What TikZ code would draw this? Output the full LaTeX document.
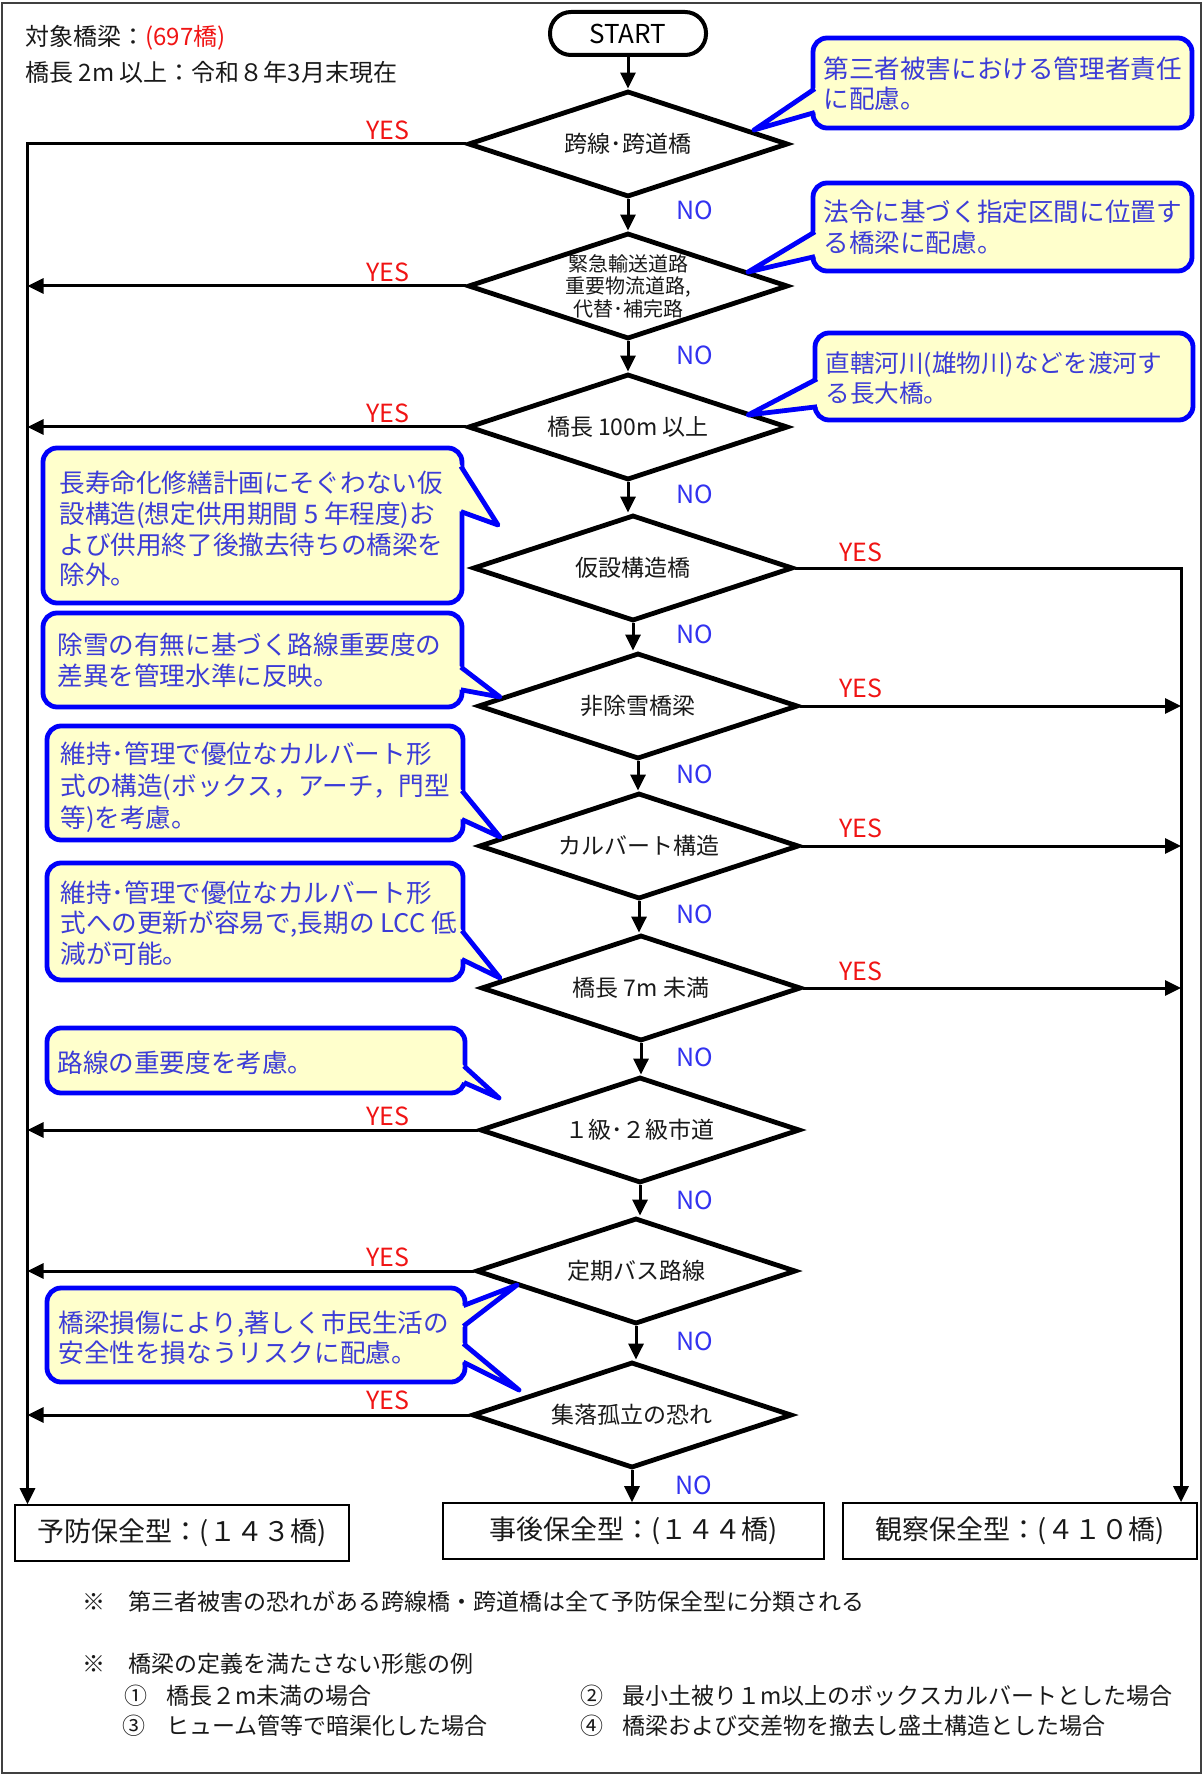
\documentclass[tikz,border=0pt]{standalone}
\usepackage{fontspec}
\setmainfont{Noto Sans CJK JP}
\usetikzlibrary{shapes.geometric,arrows.meta,calc}
\definecolor{yesred}{RGB}{240,20,20}
\definecolor{noblue}{RGB}{50,50,240}
\definecolor{cbord}{RGB}{0,0,250}
\definecolor{cfill}{RGB}{255,255,204}
\definecolor{ctext}{RGB}{60,60,215}
\definecolor{txt}{RGB}{25,25,25}
\newcommand{\mycbox}[4]{\draw[callout, rounded corners=7pt] (#1,#2) rectangle (#3,#4);}
\newcommand{\mycwedge}[6]{%
  \fill[cfill] (#5,#6) -- ($(#5,#6)!1.15!(#1,#2)$) -- ($(#5,#6)!1.15!(#3,#4)$) -- cycle;
  \draw[cbord, line width=2.4pt, line join=round] ($(#5,#6)!1.03!(#1,#2)$) -- (#5,#6) -- ($(#5,#6)!1.03!(#3,#4)$);}
\begin{document}
\begin{tikzpicture}[x=0.5pt,y=-0.5pt,
  dia/.style={diamond, draw=black, line width=2.4pt, aspect=3, inner sep=0pt,
    minimum width=160pt, minimum height=53pt, font=\fontsize{11.5}{13}\selectfont, text=txt},
  conn/.style={line width=1.5pt, draw=black},
  arr/.style={conn, -{Triangle[length=8pt,width=7.5pt]}},
  yes/.style={text=yesred, font=\fontsize{12.5}{14}\selectfont, inner sep=0pt},
  no/.style={text=noblue, font=\fontsize{12.5}{14}\selectfont, inner sep=0pt},
  callout/.style={draw=cbord, fill=cfill, line width=2.4pt},
  ctxt/.style={text=ctext, font=\fontsize{12.8}{15.3}\selectfont, inner sep=0pt, anchor=north west, align=left},
  endbox/.style={draw=black, line width=0.8pt, inner sep=0pt, font=\fontsize{13.5}{15}\selectfont, text=txt},
  note/.style={text=txt, font=\fontsize{11.5}{13}\selectfont, inner sep=0pt, anchor=west},
]
\useasboundingbox (0,0) rectangle (1203,1775);
\draw[line width=1pt, draw=black!75] (2,3) rectangle (1201,1773);

% header
\node[note, font=\fontsize{12}{14}\selectfont] (t1) at (25,38) {対象橋梁：\textcolor{yesred}{(697橋)}};
\node[note, font=\fontsize{12}{14}\selectfont] (t2) at (25,72) {橋長 2m 以上：令和８年3月末現在};

% start
\node[draw, line width=2pt, rounded corners=10.5pt, minimum width=78pt, minimum height=21.5pt,
  inner sep=0pt, font=\fontsize{13}{15}\selectfont] (start) at (628,33.5) {START};

% diamonds
\node[dia] (d1) at (628,144) {跨線･跨道橋};
\node[dia, align=center, font=\fontsize{10}{11.2}\selectfont] (d2) at (628,286) {緊急輸送道路\\重要物流道路,\\代替･補完路};
\node[dia] (d3) at (628,427) {橋長 100m 以上};
\node[dia] (d4) at (633,568) {仮設構造橋};
\node[dia] (d5) at (638,706) {非除雪橋梁};
\node[dia] (d6) at (639,846) {カルバート構造};
\node[dia] (d7) at (641,988) {橋長 7m 未満};
\node[dia] (d8) at (640,1130) {１級･２級市道};
\node[dia] (d9) at (636,1271) {定期バス路線};
\node[dia] (d10) at (632,1415) {集落孤立の恐れ};

% end boxes
\node[endbox, minimum width=167pt, minimum height=28pt] (b1) at (182,1533) {予防保全型：(１４３橋)};
\node[endbox, minimum width=190.5pt, minimum height=28pt] (b2) at (633.5,1531) {事後保全型：(１４４橋)};
\node[endbox, minimum width=177pt, minimum height=28pt] (b3) at (1020,1531) {観察保全型：(４１０橋)};

% vertical NO arrows
\draw[arr] (start.south) -- (start.south |- d1.north);
\draw[arr] (d1.south) -- (d1.south |- d2.north);
\draw[arr] (d2.south) -- (d2.south |- d3.north);
\draw[arr] (d3.south) -- (d3.south |- d4.north);
\draw[arr] (d4.south) -- (d4.south |- d5.north);
\draw[arr] (d5.south) -- (d5.south |- d6.north);
\draw[arr] (d6.south) -- (d6.south |- d7.north);
\draw[arr] (d7.south) -- (d7.south |- d8.north);
\draw[arr] (d8.south) -- (d8.south |- d9.north);
\draw[arr] (d9.south) -- (d9.south |- d10.north);
\draw[arr] (d10.south) -- (d10.south |- b2.north);

\node[no] (n1) at (695,210) {NO};
\node[no] (n2) at (695,355) {NO};
\node[no] (n3) at (695,494) {NO};
\node[no] (n4) at (695,634) {NO};
\node[no] (n5) at (695,774) {NO};
\node[no] (n6) at (695,914) {NO};
\node[no] (n7) at (695,1057) {NO};
\node[no] (n8) at (695,1200) {NO};
\node[no] (n9) at (695,1341) {NO};
\node[no] (n10) at (694,1485) {NO};

% left YES column
\coordinate (L) at (27.5,144);
\draw[arr] (d1.west) -- (L) -- (L |- b1.north);
\draw[arr] (d2.west) -- (d2.west -| L);
\draw[arr] (d3.west) -- (d3.west -| L);
\draw[arr] (d8.west) -- (d8.west -| L);
\draw[arr] (d9.west) -- (d9.west -| L);
\draw[arr] (d10.west) -- (d10.west -| L);
\node[yes] (y1) at (388,130) {YES};
\node[yes] (y2) at (388,272) {YES};
\node[yes] (y3) at (388,413) {YES};
\node[yes] (y8) at (388,1116) {YES};
\node[yes] (y9) at (388,1257) {YES};
\node[yes] (y10) at (388,1400) {YES};

% right YES column
\coordinate (R) at (1181,568);
\draw[arr] (d4.east) -- (R) -- (R |- b3.north);
\draw[arr] (d5.east) -- (d5.east -| R);
\draw[arr] (d6.east) -- (d6.east -| R);
\draw[arr] (d7.east) -- (d7.east -| R);
\node[yes] (y4) at (861,552) {YES};
\node[yes] (y5) at (861,688) {YES};
\node[yes] (y6) at (861,828) {YES};
\node[yes] (y7) at (861,971) {YES};

% callouts
\mycbox{813}{38}{1192}{128}
\mycwedge{813}{90}{813}{113}{754}{130}
\node[ctxt] (c1) at (823,56) {第三者被害における管理者責任\\に配慮。};

\mycbox{813}{183}{1192}{271}
\mycwedge{813}{233}{813}{257}{748}{272}
\node[ctxt] (c2) at (823,200) {法令に基づく指定区間に位置す\\る橋梁に配慮。};

\mycbox{815}{333}{1193}{420}
\mycwedge{815}{380}{815}{407}{748}{415}
\node[ctxt, font=\fontsize{12.3}{15.3}\selectfont] (c3) at (825,351) {直轄河川(雄物川)などを渡河す\\る長大橋。};

\mycbox{43}{448}{462}{603}
\mycwedge{462}{468}{462}{512}{498}{525}
\node[ctxt] (c4) at (59,471) {長寿命化修繕計画にそぐわない仮\\設構造(想定供用期間 5 年程度)お\\よび供用終了後撤去待ちの橋梁を\\除外。};

\mycbox{43}{613}{462}{707}
\mycwedge{462}{668}{462}{690}{500}{697}
\node[ctxt] (c5) at (57,633) {除雪の有無に基づく路線重要度の\\差異を管理水準に反映。};

\mycbox{47}{726}{463}{840}
\mycwedge{463}{792}{463}{820}{500}{837}
\node[ctxt, font=\fontsize{12.8}{16}\selectfont] (c6) at (60,741) {維持･管理で優位なカルバート形\\式の構造(ボックス，アーチ，門型\\等)を考慮。};

\mycbox{47}{863}{463}{980}
\mycwedge{463}{932}{463}{960}{500}{978}
\node[ctxt] (c7) at (60,880) {維持･管理で優位なカルバート形\\式への更新が容易で,長期の LCC 低\\減が可能。};

\mycbox{47}{1028}{465}{1093}
\mycwedge{465}{1067}{465}{1083}{499}{1098}
\node[ctxt] (c8) at (57,1051) {路線の重要度を考慮。};

\mycbox{47}{1288}{465}{1382}
\mycwedge{465}{1305}{465}{1325}{517}{1285}
\mycwedge{465}{1345}{465}{1363}{519}{1390}
\node[ctxt] (c9) at (58,1310) {橋梁損傷により,著しく市民生活の\\安全性を損なうリスクに配慮。};

% footer notes
\node[note] (f1m) at (82,1602) {※};
\node[note] (f1) at (128,1602) {第三者被害の恐れがある跨線橋・跨道橋は全て予防保全型に分類される};
\node[note] (f2m) at (82,1664) {※};
\node[note] (f2) at (128,1664) {橋梁の定義を満たさない形態の例};
\node[note] (f3m) at (124,1696) {①};
\node[note] (f3) at (166,1696) {橋長２m未満の場合};
\node[note] (f4m) at (580,1696) {②};
\node[note] (f4) at (622,1696) {最小土被り１m以上のボックスカルバートとした場合};
\node[note] (f5m) at (122,1726) {③};
\node[note] (f5) at (166,1726) {ヒューム管等で暗渠化した場合};
\node[note] (f6m) at (580,1726) {④};
\node[note] (f6) at (622,1726) {橋梁および交差物を撤去し盛土構造とした場合};
\end{tikzpicture}
\end{document}
